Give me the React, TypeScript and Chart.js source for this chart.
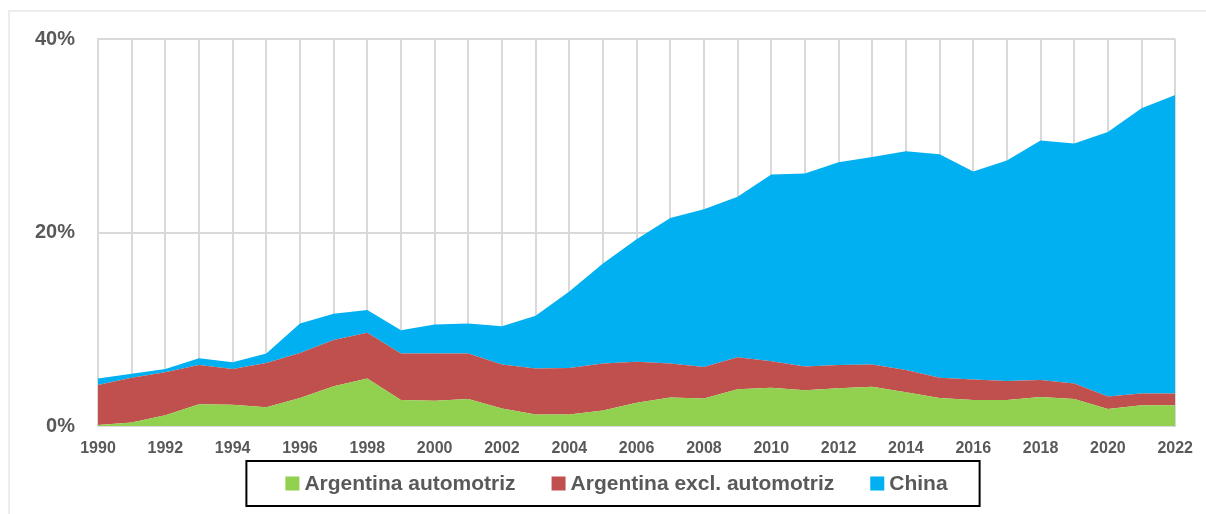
import React, { useEffect, useRef } from "react";
import { Chart, registerables } from "chart.js";

Chart.register(...registerables);

const years = [
  "1990", "1991", "1992", "1993", "1994", "1995", "1996", "1997", "1998", "1999",
  "2000", "2001", "2002", "2003", "2004", "2005", "2006", "2007", "2008", "2009",
  "2010", "2011", "2012", "2013", "2014", "2015", "2016", "2017", "2018", "2019",
  "2020", "2021", "2022",
];

// shares in percent
const automotriz = [
  0.1, 0.35, 1.1, 2.25, 2.2, 1.95, 2.9, 4.1, 4.9, 2.7,
  2.6, 2.8, 1.8, 1.2, 1.2, 1.6, 2.4, 2.95, 2.85, 3.8,
  3.95, 3.7, 3.9, 4.05, 3.5, 2.9, 2.7, 2.7, 3.0, 2.8,
  1.75, 2.15, 2.15,
];

const exclAutomotriz = [
  4.15, 4.65, 4.45, 4.05, 3.7, 4.55, 4.65, 4.8, 4.75, 4.8,
  4.9, 4.7, 4.55, 4.75, 4.8, 4.85, 4.25, 3.5, 3.25, 3.3,
  2.75, 2.45, 2.4, 2.3, 2.3, 2.1, 2.1, 1.95, 1.75, 1.6,
  1.3, 1.2, 1.2,
];

const china = [
  0.65, 0.4, 0.35, 0.7, 0.7, 1.0, 3.05, 2.7, 2.35, 2.4,
  3.0, 3.1, 3.95, 5.45, 7.9, 10.35, 12.65, 15.05, 16.3, 16.6,
  19.3, 19.95, 20.95, 21.45, 22.6, 23.1, 21.5, 22.8, 24.75, 24.8,
  27.35, 29.5, 30.85,
];

const seriesLabels = ["Argentina automotriz", "Argentina excl. automotriz", "China"];
const seriesColors = ["#92D050", "#C0504D", "#00B0F0"];

const TEXT_COLOR = "#595959";
const GRID_COLOR = "#D9D9D9";
const FONT = "'Liberation Sans', Arial, sans-serif";

const boxedLegend = {
  id: "boxedLegend",
  afterDraw(chart: any) {
    const ctx = chart.ctx as CanvasRenderingContext2D;
    ctx.save();
    ctx.font = `bold 21px ${FONT}`;
    const sq = 14;
    const gapSq = 5;
    const gapItem = 36;
    const padL = 39;
    const padR = 32;
    const items = chart.data.datasets.map((ds: any) => ({
      label: ds.label as string,
      color: ds.backgroundColor as string,
      w: ctx.measureText(ds.label).width,
    }));
    const inner =
      items.reduce((s: number, it: any) => s + sq + gapSq + it.w, 0) + gapItem * (items.length - 1);
    const boxW = inner + padL + padR;
    const left = 613 - boxW / 2;
    const top = 461;
    const boxH = 45;
    ctx.lineWidth = 2;
    ctx.strokeStyle = "#000000";
    ctx.strokeRect(left, top, boxW, boxH);
    let x = left + padL;
    const cy = top + boxH / 2;
    ctx.textBaseline = "middle";
    ctx.textAlign = "left";
    for (const it of items) {
      ctx.fillStyle = it.color;
      ctx.fillRect(x, cy - sq / 2, sq, sq);
      x += sq + gapSq;
      ctx.fillStyle = TEXT_COLOR;
      ctx.fillText(it.label, x, cy + 1);
      x += it.w + gapItem;
    }
    ctx.restore();
  },
};

export default function App() {
  const canvasRef = useRef<HTMLCanvasElement | null>(null);

  useEffect(() => {
    if (!canvasRef.current) return;
    const data = [automotriz, exclAutomotriz, china];
    const chart = new Chart(canvasRef.current, {
      type: "line",
      data: {
        labels: years,
        datasets: data.map((vals, i) => ({
          label: seriesLabels[i],
          data: vals,
          backgroundColor: seriesColors[i],
          borderColor: seriesColors[i],
          borderWidth: 0,
          pointRadius: 0,
          pointHoverRadius: 0,
          tension: 0,
          fill: i === 0 ? "origin" : "-1",
        })),
      },
      options: {
        animation: false,
        responsive: false,
        maintainAspectRatio: false,
        devicePixelRatio: 1,
        layout: { padding: { left: 0, right: 28, top: 39, bottom: 58 } },
        plugins: {
          legend: { display: false },
          tooltip: { enabled: false },
        },
        scales: {
          x: {
            offset: false,
            grid: { color: GRID_COLOR, lineWidth: 2, drawTicks: false },
            border: { color: GRID_COLOR, width: 2 },
            ticks: {
              autoSkip: false,
              maxRotation: 0,
              minRotation: 0,
              padding: 13,
              color: TEXT_COLOR,
              font: { family: FONT, size: 16, weight: "bold" },
              callback: (_v: any, idx: number) => (idx % 2 === 0 ? years[idx] : ""),
            },
            afterFit: (s: any) => {
              s.height = 30;
            },
          },
          y: {
            stacked: true,
            min: 0,
            max: 40,
            grid: { color: GRID_COLOR, lineWidth: 2, drawTicks: false },
            border: { color: GRID_COLOR, width: 2 },
            ticks: {
              stepSize: 20,
              padding: 23,
              color: TEXT_COLOR,
              font: { family: FONT, size: 20, weight: "bold" },
              callback: (v: any) => `${v}%`,
            },
            afterFit: (s: any) => {
              s.width = 98;
            },
          },
        },
      },
      plugins: [boxedLegend],
    });
    return () => chart.destroy();
  }, []);

  return (
    <div
      style={{
        position: "absolute",
        left: 0,
        top: 0,
        width: 1206,
        height: 514,
        overflow: "hidden",
        background: "#ffffff",
      }}
    >
      <div
        style={{
          position: "absolute",
          left: 8,
          top: 10,
          right: -10,
          bottom: -10,
          borderTop: "2px solid #EDEDED",
          borderLeft: "2px solid #EDEDED",
        }}
      />
      <canvas
        ref={canvasRef}
        width={1206}
        height={514}
        style={{ position: "absolute", left: 0, top: 0, width: 1206, height: 514 }}
      />
    </div>
  );
}
